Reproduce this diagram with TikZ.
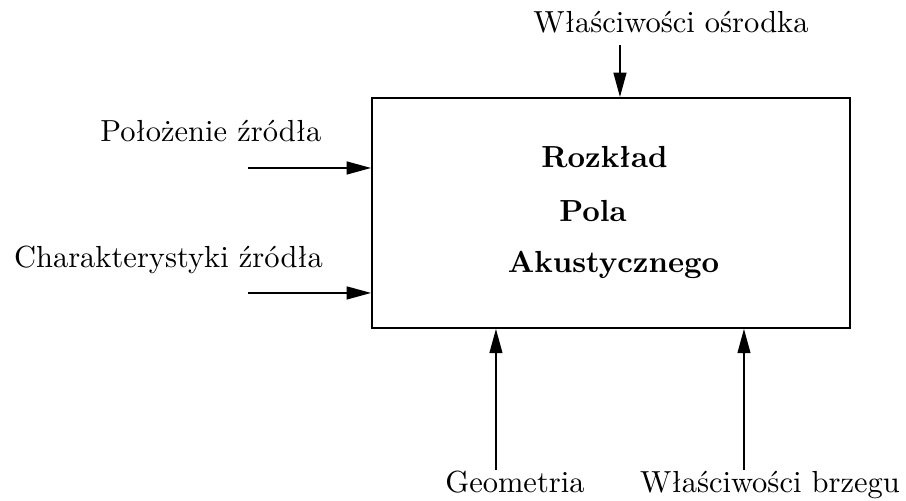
\documentclass[tikz,border=0pt]{standalone}
\usepackage{fontspec}
\usepackage{tikz}
\usetikzlibrary{arrows.meta,positioning}

\begin{document}
\begin{tikzpicture}[line width=0.6pt,>={Triangle[length=8pt,width=4.2pt]},
  blok/.style={draw,rectangle,minimum width=5.508cm,minimum height=2.65cm,inner sep=0pt},
  tytul/.style={anchor=base,font=\bfseries,inner sep=0pt},
  etykieta/.style={anchor=base,inner sep=0pt}]
\useasboundingbox (0,0) rectangle (10.44,5.773);
\node[blok] (pole) at (7.041,3.319) {};
\node[tytul] (t1) at (6.966,3.837) {Rozkład};
\node[tytul] (t2) at (6.833,3.215) {Pola};
\node[tytul] (t3) at (7.069,2.627) {Akustycznego};
\node[etykieta] (osrodek) at (7.732,5.393) {Właściwości ośrodka};
\node[etykieta] (polozenie) at (2.431,4.137) {Położenie źródła};
\node[etykieta] (charakter) at (1.942,2.696) {Charakterystyki źródła};
\node[etykieta] (geometria) at (5.934,0.092) {Geometria};
\node[etykieta] (brzeg) at (8.873,0.092) {Właściwości brzegu};
\coordinate (w_0) at (7.144,5.255);
\coordinate (w_1) at (2.858,3.837);
\coordinate (w_2) at (2.858,2.397);
\coordinate (w_3) at (5.715,0.357);
\coordinate (w_4) at (8.573,0.357);
\path[->]
  (w_0) edge (w_0 |- pole.north)
  (w_1) edge (w_1 -| pole.west)
  (w_2) edge (w_2 -| pole.west)
  (w_3) edge (w_3 |- pole.south)
  (w_4) edge (w_4 |- pole.south)
  ;
\end{tikzpicture}
\end{document}
